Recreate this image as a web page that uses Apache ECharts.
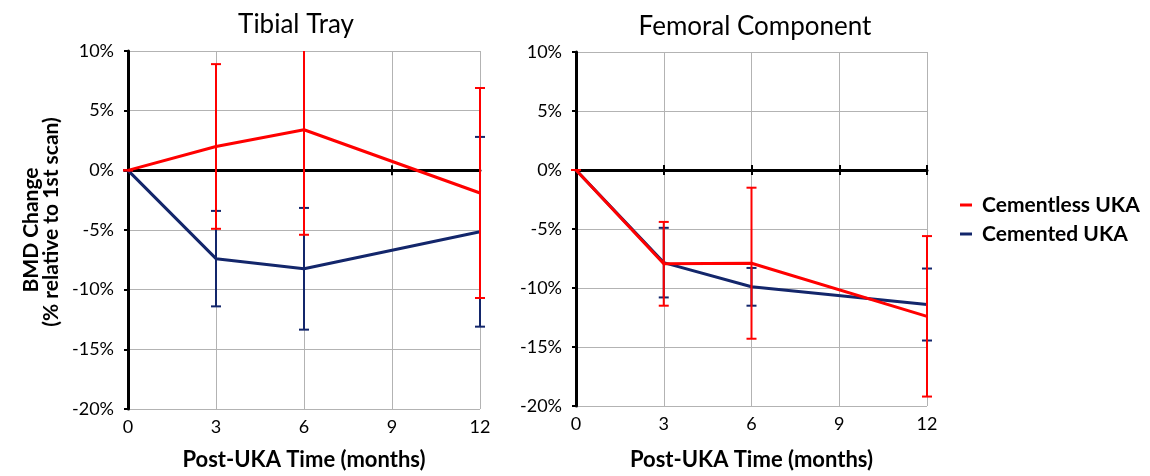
<!DOCTYPE html>
<html>
<head>
<meta charset="utf-8">
<script src="https://cdn.jsdelivr.net/npm/echarts@6/dist/echarts.min.js"></script>
<style>
  html, body { margin: 0; padding: 0; background: #fff; }
  #chart { width: 1150px; height: 476px; }
</style>
</head>
<body>
<div id="chart"></div>
<script>
// Months after surgery at which BMD was scanned
const months = [0, 3, 6, 12];

// Tibial tray: mean BMD change (%) and error-bar half-width (%)
const tibialCementless = [0, 2.0, 3.4, -1.9];
const tibialCementlessErr = [0, 6.9, 8.8, 8.8];
const tibialCemented = [0, -7.4, -8.25, -5.15];
const tibialCementedErr = [0, 4.0, 5.1, 7.95];

// Femoral component: mean BMD change (%) and error-bar half-width (%)
const femoralCementless = [0, -7.95, -7.9, -12.4];
const femoralCementlessErr = [0, 3.55, 6.4, 6.8];
const femoralCemented = [0, -7.85, -9.9, -11.4];
const femoralCementedErr = [0, 2.95, 1.6, 3.05];

const panelTitles = ['Tibial Tray', 'Femoral Component'];
const seriesNames = ['Cementless UKA', 'Cemented UKA'];
const xAxisTitle = 'Post-UKA Time (months)';
const yAxisTitleLines = ['BMD Change', '(% relative to 1st scan)'];

const RED = '#ff0000';
const NAVY = '#13266b';
const GRID_GRAY = '#b3b3b3';
const FONT = 'Lato';

function pairs(ys) { return months.map((m, i) => [m, ys[i]]); }
function bars(ys, errs) { return months.map((m, i) => [m, ys[i] - errs[i], ys[i] + errs[i]]); }

// Vertical error bar with caps; a bar running past the plot edge is cut there without a cap
function errorBarItem(color) {
  return function (params, api) {
    const cs = params.coordSys;
    const x = api.value(0);
    const top = api.coord([x, api.value(2)]);
    const bot = api.coord([x, api.value(1)]);
    const yMin = cs.y, yMax = cs.y + cs.height;
    const half = 5;
    const style = { stroke: color, lineWidth: 2, fill: null };
    const y1 = Math.max(top[1], yMin), y2 = Math.min(bot[1], yMax);
    const children = [
      { type: 'line', shape: { x1: top[0], y1: y1, x2: bot[0], y2: y2 }, style }
    ];
    if (top[1] >= yMin) children.push({ type: 'line', shape: { x1: top[0] - half, y1: top[1], x2: top[0] + half, y2: top[1] }, style });
    if (bot[1] <= yMax) children.push({ type: 'line', shape: { x1: bot[0] - half, y1: bot[1], x2: bot[0] + half, y2: bot[1] }, style });
    return { type: 'group', children: children };
  };
}

const grids = [
  { left: 128, top: 51, width: 352, height: 360 },
  { left: 576, top: 52, width: 351, height: 360 }
];
const nameGaps = [40, 43];

const xAxes = [];
const yAxes = [];
grids.forEach((g, gi) => {
  // labelled axis along the bottom edge, also providing the vertical grid lines
  xAxes.push({
    gridIndex: gi, type: 'value', min: 0, max: 12, interval: 3, position: 'bottom',
    axisLine: { show: false, onZero: false },
    axisTick: { show: false },
    axisLabel: { fontFamily: FONT, fontSize: 18, color: '#000', margin: 9 },
    splitLine: { show: true, lineStyle: { color: GRID_GRAY, width: 1 } },
    name: xAxisTitle, nameLocation: 'middle', nameGap: nameGaps[gi],
    nameTextStyle: { fontFamily: FONT, fontSize: 22, fontWeight: 'bold', color: '#000' }
  });
  // black horizontal axis crossing at 0 %, ticks pointing down
  xAxes.push({
    gridIndex: gi, type: 'value', min: 0, max: 12, interval: 3, position: 'bottom',
    axisLine: { show: true, onZero: true, onZeroAxisIndex: gi, lineStyle: { color: '#000', width: 3 } },
    axisTick: { show: true, length: 5, lineStyle: { color: '#000', width: 2 } },
    axisLabel: { show: false }, splitLine: { show: false }
  });
  // same axis again, ticks pointing up
  xAxes.push({
    gridIndex: gi, type: 'value', min: 0, max: 12, interval: 3, position: 'bottom',
    axisLine: { show: false, onZero: true, onZeroAxisIndex: gi },
    axisTick: { show: true, inside: true, length: 5, lineStyle: { color: '#000', width: 2 } },
    axisLabel: { show: false }, splitLine: { show: false }
  });
  yAxes.push({
    gridIndex: gi, type: 'value', min: -20, max: 10, interval: 5,
    axisLine: { show: true, onZero: false, lineStyle: { color: '#000', width: 3 } },
    axisTick: { show: true, length: 4, lineStyle: { color: '#000', width: 2 } },
    axisLabel: { fontFamily: FONT, fontSize: 18, color: '#000', margin: 14, formatter: '{value}%' },
    splitLine: { show: true, lineStyle: { color: GRID_GRAY, width: 1 } }
  });
});

const panels = [
  { less: tibialCementless, lessErr: tibialCementlessErr, ced: tibialCemented, cedErr: tibialCementedErr },
  { less: femoralCementless, lessErr: femoralCementlessErr, ced: femoralCemented, cedErr: femoralCementedErr }
];

const series = [];
panels.forEach((p, gi) => {
  const xi = gi * 3;
  series.push({
    type: 'custom', xAxisIndex: xi, yAxisIndex: gi, z: 2, clip: false,
    renderItem: errorBarItem(NAVY), encode: { x: 0, y: [1, 2] }, data: bars(p.ced, p.cedErr)
  });
  series.push({
    name: seriesNames[1], type: 'line', xAxisIndex: xi, yAxisIndex: gi, z: 3,
    showSymbol: false, symbol: 'none', color: NAVY,
    lineStyle: { color: NAVY, width: 3 }, data: pairs(p.ced)
  });
  series.push({
    type: 'custom', xAxisIndex: xi, yAxisIndex: gi, z: 4, clip: false,
    renderItem: errorBarItem(RED), encode: { x: 0, y: [1, 2] }, data: bars(p.less, p.lessErr)
  });
  series.push({
    name: seriesNames[0], type: 'line', xAxisIndex: xi, yAxisIndex: gi, z: 5,
    showSymbol: false, symbol: 'none', color: RED,
    lineStyle: { color: RED, width: 3 }, data: pairs(p.less)
  });
});

const titleStyle = { fontFamily: FONT, fontSize: 26, fill: '#000', textAlign: 'center', textVerticalAlign: 'middle' };
const yTitleStyle = { fontFamily: FONT, fontSize: 21, fontWeight: 'bold', fill: '#000', textAlign: 'center', textVerticalAlign: 'middle' };

const chart = echarts.init(document.getElementById('chart'), null, { renderer: 'canvas' });
chart.setOption({
  animation: false,
  backgroundColor: '#fff',
  grid: grids,
  xAxis: xAxes,
  yAxis: yAxes,
  legend: {
    data: [
      { name: seriesNames[0], icon: 'rect', itemStyle: { color: RED } },
      { name: seriesNames[1], icon: 'rect', itemStyle: { color: NAVY } }
    ],
    orient: 'vertical', left: 955, top: 188,
    itemWidth: 12, itemHeight: 3, itemGap: 5,
    selectedMode: false,
    textStyle: { fontFamily: FONT, fontSize: 21, fontWeight: 'bold', color: '#000', lineHeight: 24, padding: [0, 0, 0, 5] }
  },
  graphic: [
    { type: 'text', x: 296, y: 25, style: Object.assign({ text: panelTitles[0] }, titleStyle) },
    { type: 'text', x: 755, y: 27, style: Object.assign({ text: panelTitles[1] }, titleStyle) },
    { type: 'text', x: 31, y: 230, rotation: Math.PI / 2, style: Object.assign({ text: yAxisTitleLines[0] }, yTitleStyle) },
    { type: 'text', x: 51, y: 222, rotation: Math.PI / 2, style: Object.assign({ text: yAxisTitleLines[1] }, yTitleStyle) }
  ],
  series: series
});
</script>
</body>
</html>
